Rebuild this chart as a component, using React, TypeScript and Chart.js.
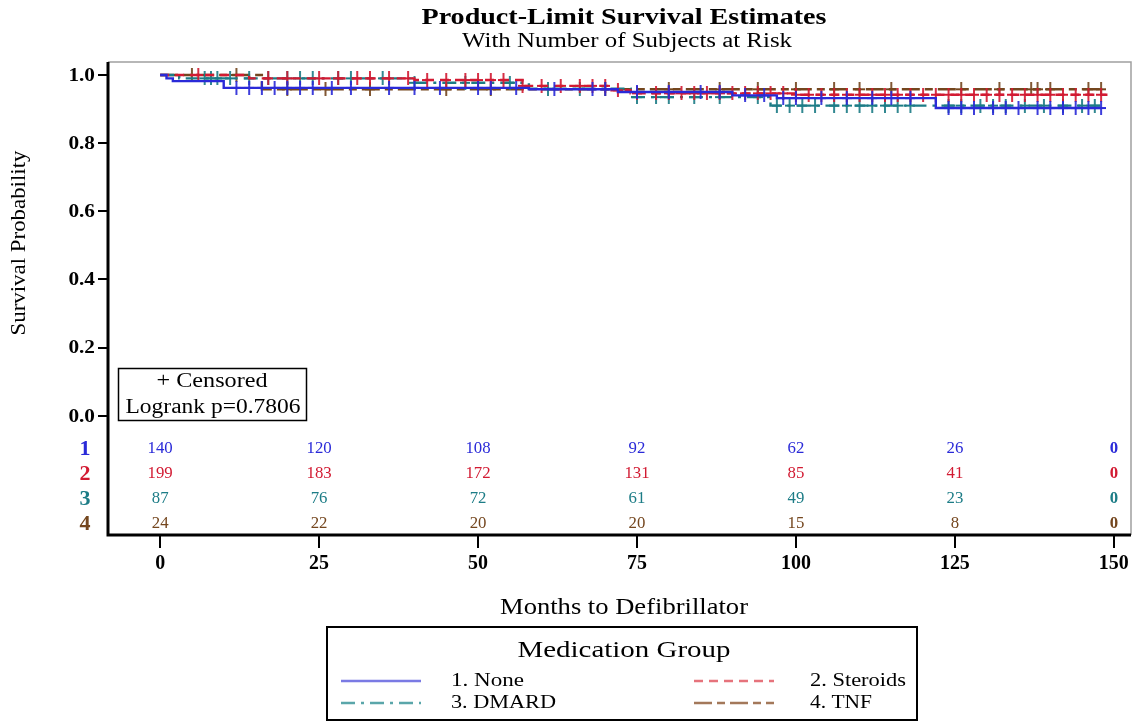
import React, { useEffect, useRef } from 'react';
import { Chart, registerables } from 'chart.js';
Chart.register(...registerables);

// ---------- data ----------
const groupNames = ['1. None', '2. Steroids', '3. DMARD', '4. TNF'];
const rowLabels = ['1', '2', '3', '4'];

// Kaplan-Meier step points (time, survival)
const noneTimes = [0, 1, 2, 10, 58, 72, 90, 97, 122, 148];
const noneSurv = [1.0, 0.99, 0.982, 0.962, 0.958, 0.95, 0.94, 0.932, 0.903, 0.903];
const steroidTimes = [0, 14, 40, 57, 71, 74, 100, 149];
const steroidSurv = [1.0, 0.99, 0.985, 0.968, 0.955, 0.946, 0.942, 0.942];
const dmardTimes = [0, 3, 40, 58, 74, 96, 148];
const dmardSurv = [1.0, 0.99, 0.977, 0.96, 0.935, 0.91, 0.91];
const tnfTimes = [0, 16, 148];
const tnfSurv = [1.0, 0.958, 0.958];

// censored times
const noneCens = [12, 14, 16, 18, 20, 22, 24, 27, 30, 36, 40, 44, 50, 52, 56, 62, 68, 70, 75, 80, 85, 88, 92, 95, 98, 100, 104, 108, 112, 115, 118, 124, 126, 128, 131, 133, 135, 138, 140, 142, 144, 146, 148];
const steroidCens = [6, 17, 20, 25, 28, 31, 33, 36, 39, 42, 45, 48, 50, 52, 54, 57, 60, 63, 66, 68, 70, 72, 75, 78, 80, 82, 84, 86, 88, 90, 92, 94, 96, 98, 100, 102, 104, 106, 108, 110, 112, 114, 116, 118, 120, 122, 124, 126, 128, 130, 132, 134, 136, 138, 140, 142, 144, 146, 148];
const dmardCens = [7, 8, 9, 11, 14, 17, 20, 22, 24, 28, 30, 35, 40, 48, 55, 61, 66, 75, 78, 80, 84, 88, 94, 97, 99, 101, 103, 106, 108, 110, 112, 114, 116, 118, 124, 126, 129, 131, 133, 136, 139, 142, 145, 147];
const tnfCens = [5, 12, 20, 26, 33, 45, 52, 70, 80, 88, 94, 100, 106, 110, 115, 126, 132, 137, 138, 140, 146, 148];

// number at risk
const atRiskTimes = [0, 25, 50, 75, 100, 125, 150];
const atRiskNone = [140, 120, 108, 92, 62, 26, 0];
const atRiskSteroids = [199, 183, 172, 131, 85, 41, 0];
const atRiskDmard = [87, 76, 72, 61, 49, 23, 0];
const atRiskTnf = [24, 22, 20, 20, 15, 8, 0];

const xTicks = [0, 25, 50, 75, 100, 125, 150];
const yTicks = [0, 0.2, 0.4, 0.6, 0.8, 1.0];

// ---------- styles ----------
const lineColors = ['#2a2ad8', '#d21a32', '#1c7c86', '#74461e'];
const legendColors = ['#7a7ae4', '#e6737c', '#5aa6aa', '#a3785a'];
const dashes: number[][] = [[], [9, 6], [14, 6, 3, 6], [18, 5, 8, 5]];
const SERIF = '"Liberation Serif", "DejaVu Serif", serif';

const groups = [
  { t: noneTimes, s: noneSurv, c: noneCens, r: atRiskNone },
  { t: steroidTimes, s: steroidSurv, c: steroidCens, r: atRiskSteroids },
  { t: dmardTimes, s: dmardSurv, c: dmardCens, r: atRiskDmard },
  { t: tnfTimes, s: tnfSurv, c: tnfCens, r: atRiskTnf },
];

function survAt(times: number[], surv: number[], t: number) {
  let v = surv[0];
  for (let i = 0; i < times.length; i++) if (times[i] <= t) v = surv[i];
  return v;
}

function plusMarker(color: string) {
  const c = document.createElement('canvas');
  c.width = 10;
  c.height = 14;
  const g = c.getContext('2d')!;
  g.strokeStyle = color;
  g.lineWidth = 1.8;
  g.beginPath();
  g.moveTo(5, 0);
  g.lineTo(5, 14);
  g.moveTo(0, 7);
  g.lineTo(10, 7);
  g.stroke();
  return c;
}

// draw text stretched horizontally to a target width (or by a factor)
function textW(ctx: CanvasRenderingContext2D, s: string, x: number, y: number, font: string, opt: { w?: number; sx?: number; align?: CanvasTextAlign; base?: CanvasTextBaseline }) {
  ctx.save();
  ctx.font = font;
  const m = ctx.measureText(s).width;
  const sx = opt.w ? opt.w / m : opt.sx || 1;
  ctx.translate(x, y);
  ctx.scale(sx, 1);
  ctx.textAlign = opt.align || 'center';
  ctx.textBaseline = opt.base || 'middle';
  ctx.fillText(s, 0, 0);
  ctx.restore();
}

const decorPlugin = {
  id: 'decor',
  afterDraw(chart: any) {
    const ctx = chart.ctx as CanvasRenderingContext2D;
    const area = chart.chartArea;
    const xs = chart.scales.x;
    const ys = chart.scales.y;
    ctx.save();
    // gray top/right frame
    ctx.strokeStyle = '#a0a0a0';
    ctx.lineWidth = 1.5;
    ctx.beginPath();
    ctx.moveTo(area.left, area.top);
    ctx.lineTo(area.right, area.top);
    ctx.lineTo(area.right, area.bottom);
    ctx.stroke();

    // axes
    ctx.strokeStyle = '#000';
    ctx.lineWidth = 3;
    ctx.beginPath();
    ctx.moveTo(area.left, area.top);
    ctx.lineTo(area.left, area.bottom);
    ctx.lineTo(area.right, area.bottom);
    ctx.stroke();
    ctx.lineWidth = 2;
    ctx.beginPath();
    yTicks.forEach((v) => {
      const py = Math.round(ys.getPixelForValue(v));
      ctx.moveTo(area.left - 10, py);
      ctx.lineTo(area.left, py);
    });
    xTicks.forEach((v) => {
      const px = Math.round(xs.getPixelForValue(v));
      ctx.moveTo(px, area.bottom);
      ctx.lineTo(px, area.bottom + 13);
    });
    ctx.stroke();

    ctx.fillStyle = '#000';
    yTicks.forEach((v) => {
      textW(ctx, v.toFixed(1), area.left - 13, ys.getPixelForValue(v) + 1, `bold 19px ${SERIF}`, { sx: 1.12, align: 'right' });
    });
    xTicks.forEach((v) => {
      textW(ctx, String(v), xs.getPixelForValue(v), area.bottom + 29, `bold 21px ${SERIF}`, { sx: 0.95 });
    });

    // titles
    textW(ctx, 'Product-Limit Survival Estimates', 624, 24, `bold 24px ${SERIF}`, { w: 405, base: 'alphabetic' });
    textW(ctx, 'With Number of Subjects at Risk', 627, 47, `20px ${SERIF}`, { w: 330, base: 'alphabetic' });

    // x title
    textW(ctx, 'Months to Defibrillator', 624, 614, `23px ${SERIF}`, { w: 248, base: 'alphabetic' });

    // y title
    ctx.save();
    ctx.translate(25, 243);
    ctx.rotate(-Math.PI / 2);
    textW(ctx, 'Survival Probability', 0, 0, `22px ${SERIF}`, { w: 185, base: 'alphabetic' });
    ctx.restore();

    // censored / logrank box
    ctx.lineWidth = 1.5;
    ctx.strokeStyle = '#000';
    ctx.strokeRect(118.5, 368.5, 188, 52);
    textW(ctx, '+ Censored', 212, 382, `20px ${SERIF}`, { w: 111 });
    textW(ctx, 'Logrank p=0.7806', 213, 408, `20px ${SERIF}`, { w: 175 });

    // at-risk table
    const y0 = ys.getPixelForValue(0);
    groups.forEach((g, i) => {
      const yy = y0 + 33.5 + i * 25;
      ctx.fillStyle = lineColors[i];
      textW(ctx, rowLabels[i], 85, yy + 1, `bold 20px ${SERIF}`, { sx: 1.1 });
      atRiskTimes.forEach((t, j) => {
        textW(ctx, String(g.r[j]), xs.getPixelForValue(t), yy, (t === 150 ? 'bold ' : '') + `16px ${SERIF}`, { sx: 1.05 });
      });
    });

    // legend
    ctx.strokeStyle = '#000';
    ctx.lineWidth = 2;
    ctx.strokeRect(327, 627, 590, 93);
    ctx.fillStyle = '#000';
    textW(ctx, 'Medication Group', 624, 651, `24px ${SERIF}`, { w: 213 });
    const pos = [
      [341, 681, 451, 73],
      [694, 681, 810, 96],
      [341, 703, 451, 105],
      [694, 703, 810, 62],
    ];
    groupNames.forEach((name, i) => {
      const [lx, ly, tx, tw] = pos[i];
      ctx.strokeStyle = legendColors[i];
      ctx.lineWidth = 2.5;
      ctx.setLineDash(dashes[i]);
      ctx.beginPath();
      ctx.moveTo(lx, ly);
      ctx.lineTo(lx + 80, ly);
      ctx.stroke();
      ctx.setLineDash([]);
      ctx.fillStyle = '#000';
      textW(ctx, name, tx, ly, `18px ${SERIF}`, { w: tw, align: 'left' });
    });
    ctx.restore();
  },
};

export default function App() {
  const ref = useRef<HTMLCanvasElement | null>(null);
  useEffect(() => {
    if (!ref.current) return;
    const datasets: any[] = [];
    groups.forEach((g, i) => {
      datasets.push({
        type: 'line',
        label: groupNames[i],
        data: g.t.map((t, k) => ({ x: t, y: g.s[k] })),
        borderColor: lineColors[i],
        borderWidth: 2.4,
        borderDash: dashes[i],
        stepped: true,
        pointRadius: 0,
        fill: false,
      });
      datasets.push({
        type: 'scatter',
        label: groupNames[i] + ' censored',
        data: g.c.map((t) => ({ x: t, y: survAt(g.t, g.s, t) })),
        pointStyle: plusMarker(lineColors[i]),
        pointRadius: 6,
        showLine: false,
      });
    });
    const chart = new Chart(ref.current, {
      type: 'line',
      data: { datasets },
      options: {
        animation: false,
        responsive: true,
        maintainAspectRatio: false,
        layout: { padding: { top: 62, right: 5, left: 0, bottom: 0 } },
        plugins: { legend: { display: false }, title: { display: false }, tooltip: { enabled: false } },
        scales: {
          x: {
            type: 'linear',
            min: -8.2,
            max: 152.7,
            afterFit: (s: any) => { s.height = 188; },
            ticks: { display: false },
            grid: { display: false },
            border: { display: false },
          },
          y: {
            type: 'linear',
            min: -0.35,
            max: 1.038,
            afterFit: (s: any) => { s.width = 108; },
            ticks: { display: false },
            grid: { display: false },
            border: { display: false },
          },
        },
      } as any,
      plugins: [decorPlugin],
    });
    return () => chart.destroy();
  }, []);
  return (
    <div style={{ position: 'fixed', left: 0, top: 0, width: 1138, height: 723, background: '#fff' }}>
      <canvas ref={ref} />
    </div>
  );
}
